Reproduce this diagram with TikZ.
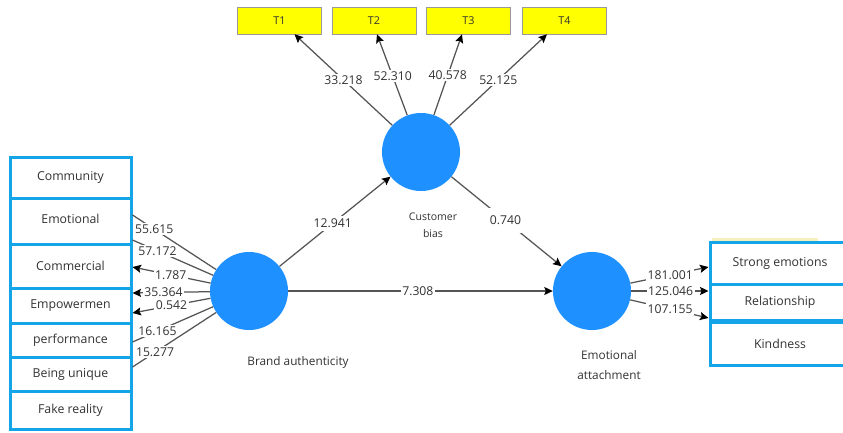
\documentclass[tikz,border=0pt]{standalone}
\usepackage{fontspec}
\setmainfont{Open Sans}
\usetikzlibrary{arrows.meta,calc}

\definecolor{lvblue}{RGB}{30,144,255}
\definecolor{boxcyan}{RGB}{20,165,232}
\definecolor{linegray}{RGB}{85,85,85}
\definecolor{txtgray}{RGB}{50,50,50}
\definecolor{tyellow}{RGB}{255,255,0}
\definecolor{paleyellow}{RGB}{245,240,190}

\newcommand\sznum{\fontsize{12.2}{14}\selectfont}
\newcommand\szind{\fontsize{12.3}{14}\selectfont}
\newcommand\szitem{\fontsize{10.8}{12}\selectfont}
\newcommand\szlv{\fontsize{11.8}{20}\selectfont}
\newcommand\szcb{\fontsize{10.5}{17}\selectfont}

\begin{document}
\begin{tikzpicture}[x=1pt,y=-1pt,
  latent/.style={circle,fill=lvblue,draw=none,minimum size=78pt,inner sep=0pt},
  indbox/.style={rectangle,draw=boxcyan,line width=3pt,fill=white,
    minimum width=121pt,inner sep=0pt,font=\szind,text=txtgray},
  itembox/.style={rectangle,draw=gray!80,line width=0.6pt,fill=tyellow,
    minimum width=84pt,minimum height=27pt,inner sep=0pt,font=\szitem,text=txtgray},
  conn/.style={draw=linegray,line width=1.25pt},
  arr/.style={conn,-{Stealth[length=8.5pt,width=8pt,inset=1.5pt,color=black]}},
  lbl/.style={fill=white,inner sep=1.5pt,font=\sznum,text=txtgray},
  lvname/.style={font=\szlv,text=txtgray,align=center}]

\useasboundingbox (0,0) rectangle (843,432);
\clip (0,0) rectangle (843,432);
\fill[white] (0,0) rectangle (843,432);

% latent variables
\node[latent] (cb) at (421,152) {};
\node[latent] (ba) at (249,291) {};
\node[latent] (ea) at (592,291) {};

\node[font=\szcb,text=txtgray,align=center] (cbname) at (433,225) {Customer\\bias};
\node[lvname] (baname) at (298,362) {Brand authenticity};
\node[lvname] (eaname) at (609,365) {Emotional\\attachment};

% indicators of customer bias
\node[itembox] (t1) at (279.5,20.5) {T1};
\node[itembox] (t2) at (374,20.5) {T2};
\node[itembox] (t3) at (468.5,20.5) {T3};
\node[itembox] (t4) at (564.5,20.5) {T4};

% indicators of brand authenticity
\node[indbox,minimum height=41pt] (comm) at (70.5,177.5) {Community};
\node[indbox,minimum height=46pt] (emo)  at (70.5,221) {\raisebox{4pt}{Emotional}};
\node[indbox,minimum height=44pt] (com)  at (70.5,266) {Commercial};
\node[indbox,minimum height=35pt] (emp)  at (70.5,305.5) {Empowermen};
\node[indbox,minimum height=34pt] (perf) at (70.5,340) {performance};
\node[indbox,minimum height=34pt] (uniq) at (70.5,374) {Being unique};
\node[indbox,minimum height=38pt] (fake) at (70.5,410) {Fake reality};

% indicators of emotional attachment
\fill[paleyellow] (712,238) rectangle (818,262);
\node[indbox,minimum width=140pt,minimum height=42pt] (se)   at (780,263) {Strong emotions};
\node[indbox,minimum width=140pt,minimum height=36pt] (rel)  at (780,302) {Relationship};
\node[indbox,minimum width=140pt,minimum height=42.5pt] (kind) at (780,343.75) {Kindness};

% outer loadings, brand authenticity
\draw[conn] (ba) -- node[lbl,pos=0.74] {55.615} ($(emo.east)+(0,-6)$);
\draw[conn] (ba) -- node[lbl,pos=0.69] {57.172} ($(emo.east)+(0,19)$);
\draw[arr]  (ba) -- node[lbl,pos=0.51] {1.787}  ($(com.east)+(0,1)$);
\draw[arr]  (ba) -- node[lbl,pos=0.60] {35.364} ($(emp.east)+(0,-12.5)$);
\draw[arr]  (ba) -- node[lbl,pos=0.50] {0.542}  ($(emp.east)+(0,7.5)$);
\draw[conn] (ba) -- node[lbl,pos=0.69] {16.165} ($(perf.east)+(0,2)$);
\draw[conn] (ba) -- node[lbl,pos=0.73] {15.277} ($(uniq.east)+(0,-7)$);

% outer loadings, customer bias
\draw[arr] (cb) -- node[lbl,pos=0.50] {33.218} ($(t1.south)+(15,0)$);
\draw[arr] (cb) -- node[lbl,pos=0.48] {52.310} ($(t2.south)+(3,0)$);
\draw[arr] (cb) -- node[lbl,pos=0.49] {40.578} ($(t3.south)+(-6.5,0)$);
\draw[arr] (cb) -- node[lbl,pos=0.50] {52.125} ($(t4.south)+(-17.5,0)$);

% outer loadings, emotional attachment
\draw[arr] (ea) -- node[lbl,pos=0.51] {181.001} ($(se.west)+(0,4)$);
\draw[arr] (ea) -- node[lbl,pos=0.51] {125.046} ($(rel.west)+(0,-11)$);
\draw[arr] (ea) -- node[lbl,pos=0.51] {107.155} ($(rel.west)+(0,16)$);

% structural paths
\draw[arr] (ba) -- node[lbl,pos=0.48,inner ysep=3pt] {12.941} (cb);
\draw[arr] (ba) -- node[lbl,pos=0.49] {7.308} (ea);
\draw[arr] (cb) -- node[lbl,pos=0.49,inner xsep=6pt,inner ysep=8pt] {0.740} (ea);

\end{tikzpicture}
\end{document}
